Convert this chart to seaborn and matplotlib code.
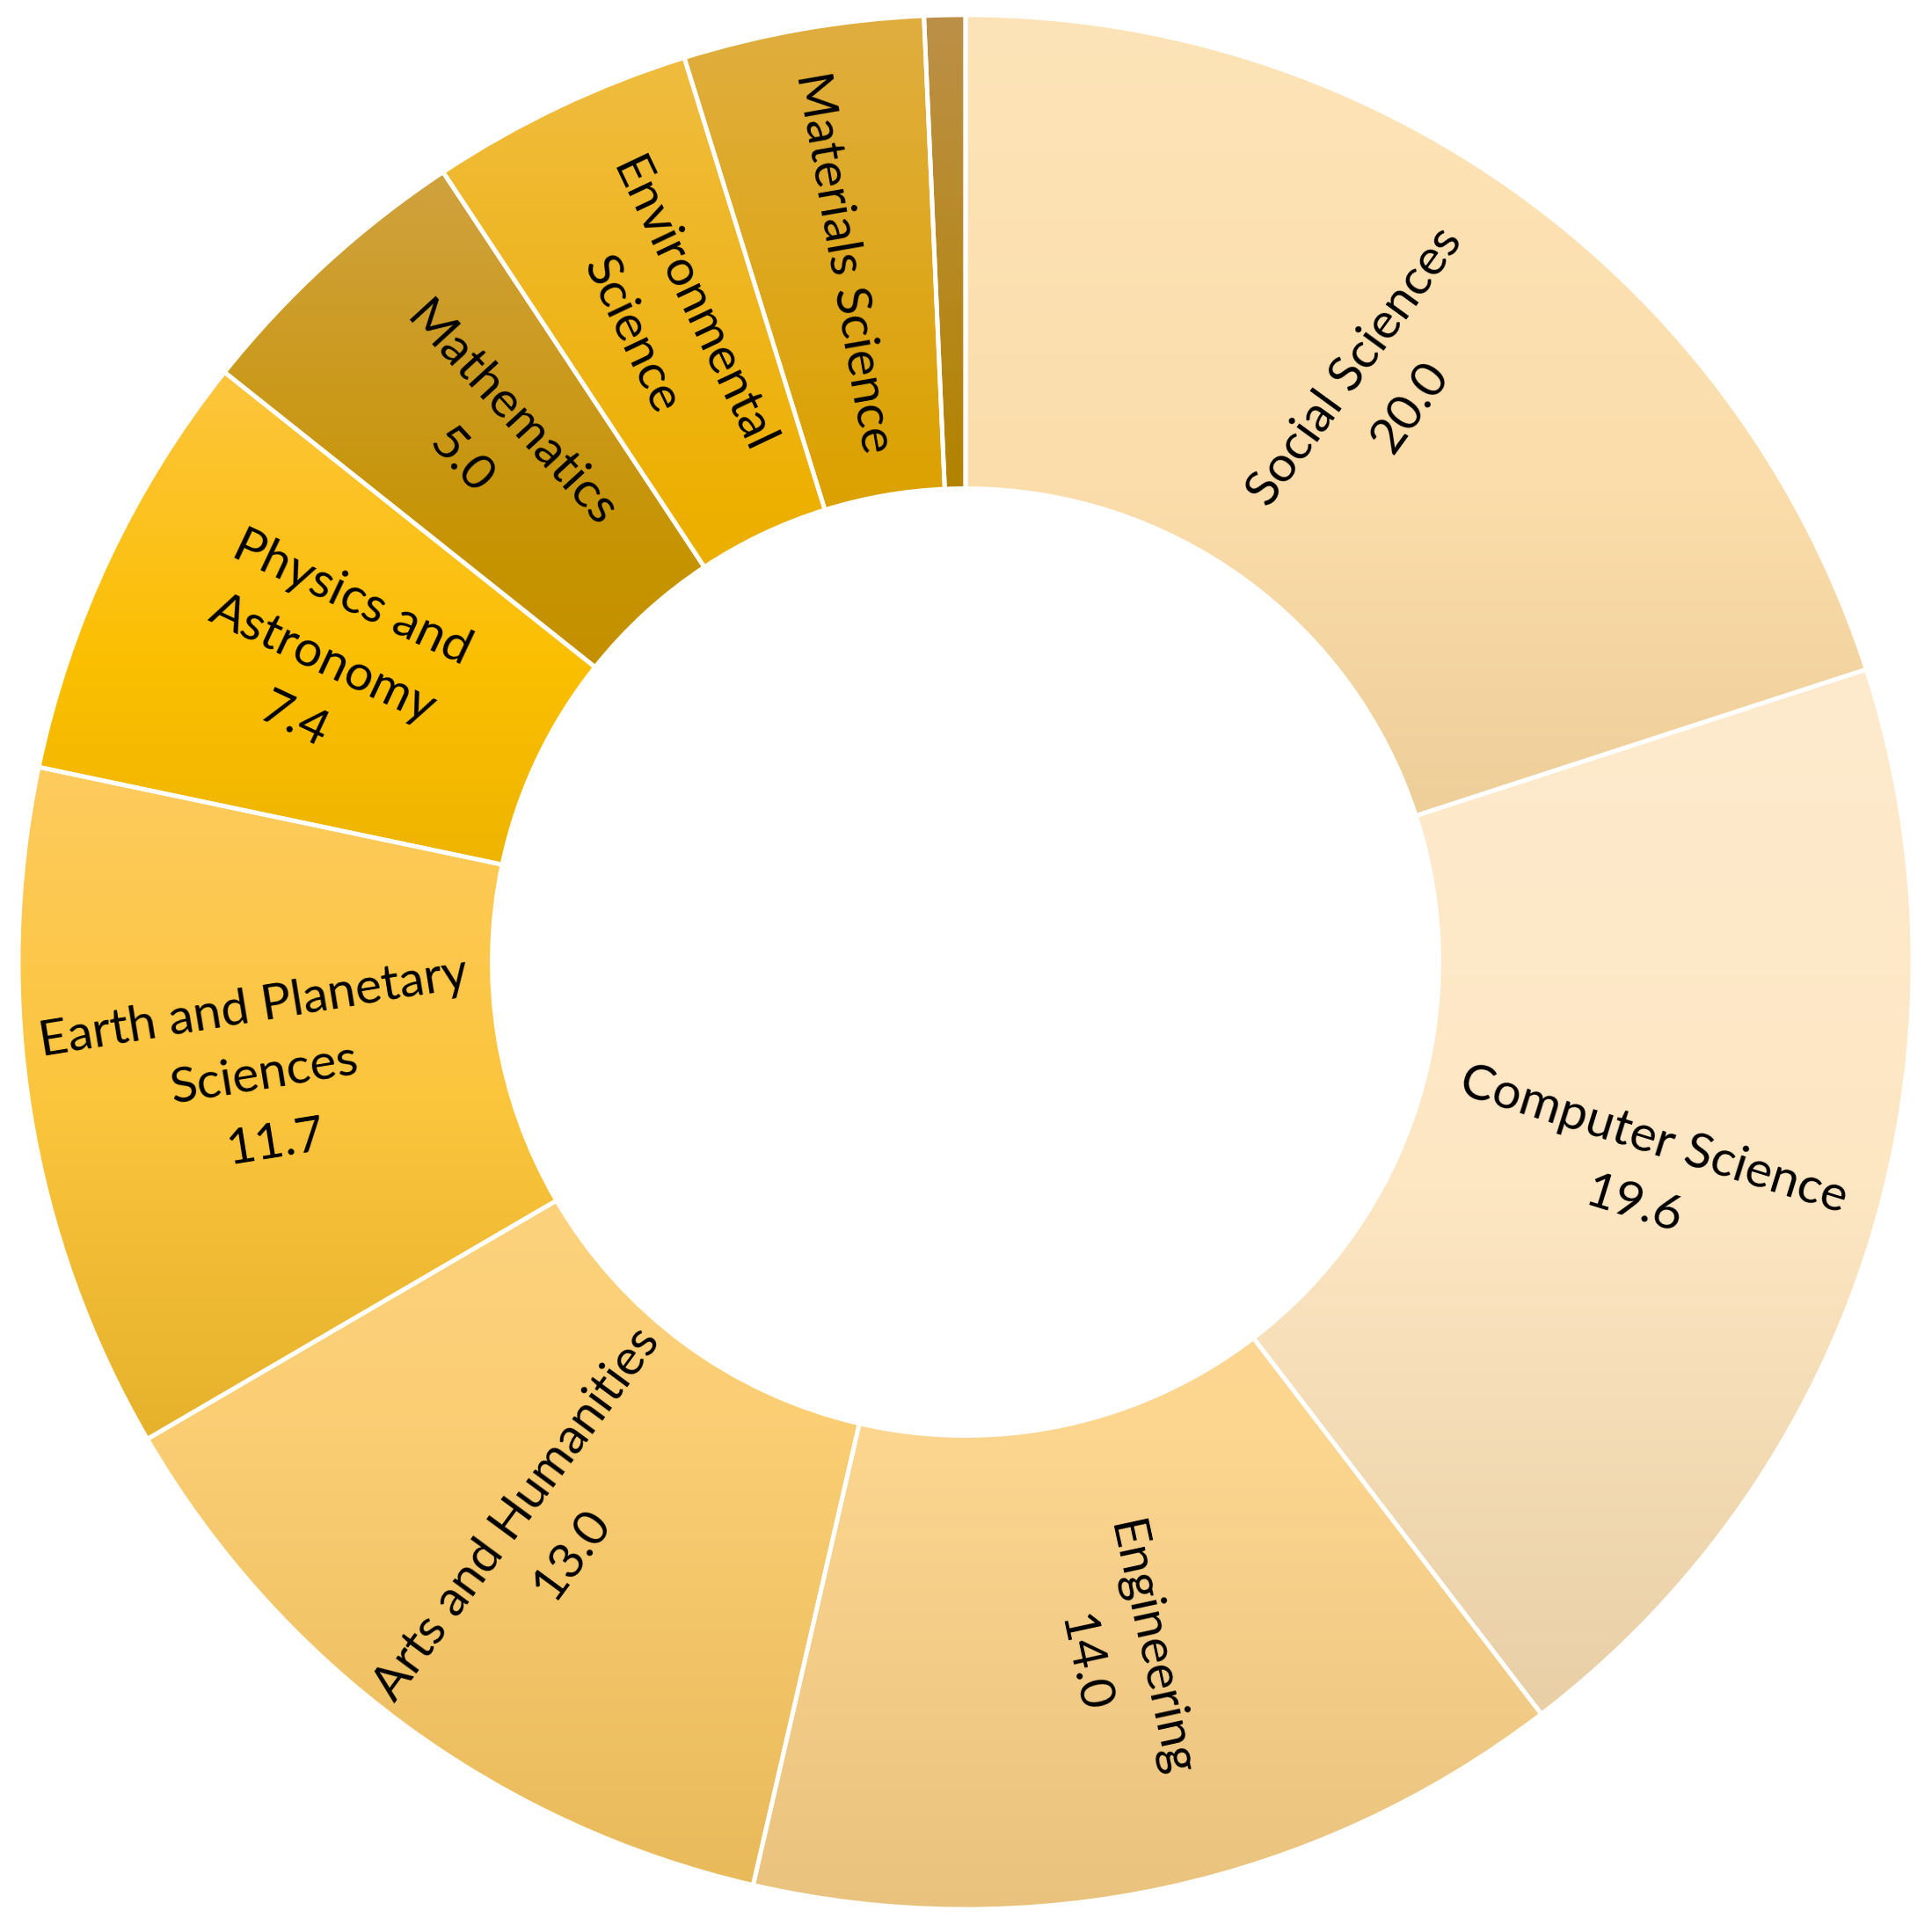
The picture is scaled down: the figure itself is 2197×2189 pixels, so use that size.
"""Donut chart of publication share by subject area."""

import matplotlib.colors as mcolors
import matplotlib.pyplot as plt
import numpy as np
import seaborn as sns

sns.set_theme(style="white")
plt.rcParams["font.family"] = ["Lato", "DejaVu Sans"]

# data (percent of total)
subjects = [
    "Social Sciences",
    "Computer Science",
    "Engineering",
    "Arts and Humanities",
    "Earth and Planetary\nSciences",
    "Physics and\nAstronomy",
    "Mathematics",
    "Environmental\nScience",
    "Materials Science",
    "Other",
]
shares = [20.0, 19.6, 14.0, 13.0, 11.7, 7.4, 5.0, 4.5, 4.1, 0.7]
show_name = [True, True, True, True, True, True, True, True, True, False]
show_value = [True, True, True, True, True, True, True, False, False, False]

# vertical gradient per slice: top -> middle -> bottom
top_colors = [
    "#FDE4B8", "#FEEBCE", "#FDD998", "#FDD686", "#FECB5E",
    "#FDC53E", "#D0A23E", "#F0BC40", "#E0AE40", "#BC9048",
]
mid_colors = [
    "#FBDDAB", "#FDE6C2", "#FCD58F", "#FBCE74", "#FBC53C",
    "#FBBF00", "#C69300", "#EDB000", "#DCA200", "#B28300",
]
bottom_colors = [
    "#E8C891", "#E8CFA6", "#E9C27E", "#E8BA5A", "#E6B22C",
    "#E8AF00", "#BD8800", "#E0A600", "#D09A00", "#AA7C00",
]

W, H = 2197, 2189
CX, CY = 1098, 1094  # centre in pixels (y from top)
R = 1077
HOLE = 0.5


def gradient_image(top, mid, bottom, n=256):
    t = np.linspace(0, 1, n)
    cmap = mcolors.LinearSegmentedColormap.from_list("g", [top, mid, bottom])
    return cmap(t)[:, None, :3]


fig = plt.figure(figsize=(W / 100, H / 100), dpi=100)
ax = fig.add_axes([0, 0, 1, 1])

wedges, _ = ax.pie(
    shares,
    radius=R,
    startangle=90,
    counterclock=False,
    wedgeprops=dict(width=R * (1 - HOLE), edgecolor="white", linewidth=3.5),
)

for wedge, top, mid, bottom in zip(wedges, top_colors, mid_colors, bottom_colors):
    wedge.set_facecolor("none")
    wedge.set_zorder(3)
    verts = wedge.get_path().vertices
    x0, y0 = verts.min(axis=0)
    x1, y1 = verts.max(axis=0)
    im = ax.imshow(
        gradient_image(top, mid, bottom),
        extent=(x0, x1, y0, y1),
        origin="upper",
        aspect="auto",
        interpolation="bilinear",
        zorder=1,
    )
    im.set_clip_path(wedge)

r_label = R * (1 + HOLE) / 2
for wedge, name, val, sn, sv in zip(wedges, subjects, shares, show_name, show_value):
    if not sn:
        continue
    mid = (wedge.theta1 + wedge.theta2) / 2
    x = r_label * np.cos(np.deg2rad(mid))
    y = r_label * np.sin(np.deg2rad(mid))
    rot = (mid + 180) % 360 - 180
    if rot > 90:
        rot -= 180
    elif rot < -90:
        rot += 180
    text = f"{name}\n{val:.1f}" if sv else name
    ax.text(
        x, y, text,
        rotation=rot,
        rotation_mode="anchor",
        ha="center",
        va="center",
        multialignment="center",
        fontsize=41,
        color="black",
        linespacing=1.65,
        zorder=4,
    )

ax.set_xlim(-CX, W - CX)
ax.set_ylim(-(H - CY), CY)
ax.set_aspect("auto")
ax.axis("off")

fig.savefig("out.png", dpi=100, facecolor="white")
